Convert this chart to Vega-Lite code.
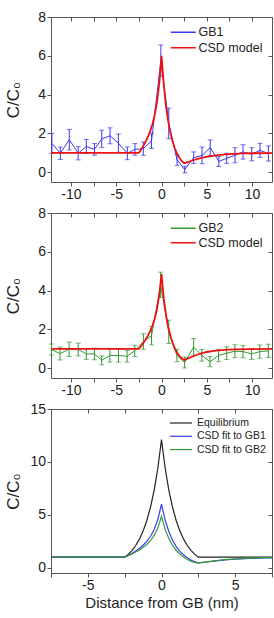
{
  "$schema": "https://vega.github.io/schema/vega-lite/v6.json",
  "padding": {"left": 3, "top": 9, "right": 2, "bottom": 2},
  "background": "white",
  "config": {
    "font": "Liberation Sans",
    "view": {"stroke": "#555", "strokeWidth": 1},
    "axis": {
      "domain": false, "grid": false,
      "labelFont": "Liberation Sans", "labelFontSize": 14, "labelColor": "#222",
      "titleFont": "Liberation Sans", "titleFontSize": 17, "titleFontWeight": "normal", "titleColor": "#222",
      "tickColor": "#555", "tickSize": 4, "labelPadding": 1
    },
    "legend": {
      "orient": "none", "padding": 0, "titlePadding": 0,
      "labelFont": "Liberation Sans", "labelColor": "#222",
      "symbolType": "M-2.5,0H2.5", "symbolSize": 100, "symbolStrokeWidth": 1.5
    }
  },
  "datasets": {
    "gb1": [
      {"x": -12.1, "c": 1.49, "err": 0.51}, {"x": -11.17, "c": 0.98, "err": 0.32},
      {"x": -10.18, "c": 1.68, "err": 0.53}, {"x": -9.2, "c": 0.98, "err": 0.34},
      {"x": -8.3, "c": 1.33, "err": 0.36}, {"x": -7.4, "c": 1.18, "err": 0.3},
      {"x": -6.6, "c": 1.72, "err": 0.45}, {"x": -5.68, "c": 1.88, "err": 0.41},
      {"x": -4.76, "c": 1.5, "err": 0.47}, {"x": -3.77, "c": 0.98, "err": 0.33},
      {"x": -2.93, "c": 1.18, "err": 0.3}, {"x": -2.01, "c": 1.22, "err": 0.34},
      {"x": -1.1, "c": 1.62, "err": 0.39}, {"x": -0.07, "c": 5.75, "err": 0.81},
      {"x": 0.8, "c": 2.52, "err": 0.79}, {"x": 1.72, "c": 0.64, "err": 0.28},
      {"x": 2.56, "c": 0.14, "err": 0.17}, {"x": 3.55, "c": 0.75, "err": 0.3},
      {"x": 4.47, "c": 0.87, "err": 0.43}, {"x": 5.38, "c": 1.27, "err": 0.4},
      {"x": 6.33, "c": 0.56, "err": 0.26}, {"x": 7.2, "c": 0.72, "err": 0.26},
      {"x": 8.11, "c": 0.88, "err": 0.39}, {"x": 9.0, "c": 1.05, "err": 0.37},
      {"x": 9.96, "c": 0.93, "err": 0.34}, {"x": 10.88, "c": 1.13, "err": 0.36},
      {"x": 11.8, "c": 0.97, "err": 0.39}
    ],
    "gb2": [
      {"x": -12.15, "c": 0.97, "err": 0.28}, {"x": -11.2, "c": 0.76, "err": 0.33},
      {"x": -10.2, "c": 0.98, "err": 0.37}, {"x": -9.2, "c": 0.97, "err": 0.33},
      {"x": -8.3, "c": 0.74, "err": 0.28}, {"x": -7.4, "c": 0.74, "err": 0.3},
      {"x": -6.6, "c": 0.41, "err": 0.23}, {"x": -5.7, "c": 0.66, "err": 0.34},
      {"x": -4.75, "c": 0.66, "err": 0.34}, {"x": -3.8, "c": 0.62, "err": 0.3},
      {"x": -2.95, "c": 0.9, "err": 0.29}, {"x": -2.0, "c": 1.38, "err": 0.4},
      {"x": -1.1, "c": 1.68, "err": 0.47}, {"x": -0.1, "c": 4.3, "err": 0.65},
      {"x": 0.8, "c": 1.88, "err": 0.6}, {"x": 1.7, "c": 0.66, "err": 0.32},
      {"x": 2.55, "c": 0.3, "err": 0.28}, {"x": 3.55, "c": 1.1, "err": 0.43},
      {"x": 4.45, "c": 0.67, "err": 0.3}, {"x": 5.35, "c": 0.34, "err": 0.26},
      {"x": 6.3, "c": 0.66, "err": 0.32}, {"x": 7.2, "c": 0.78, "err": 0.33},
      {"x": 8.1, "c": 0.88, "err": 0.33}, {"x": 9.0, "c": 0.86, "err": 0.32},
      {"x": 9.95, "c": 0.74, "err": 0.28}, {"x": 10.85, "c": 0.86, "err": 0.34},
      {"x": 11.8, "c": 0.9, "err": 0.34}
    ],
    "fit1": [
      {"x": -12.2, "c": 1}, {"x": -2.5, "c": 1}, {"x": -2.25, "c": 1.17}, {"x": -2, "c": 1.36},
      {"x": -1.75, "c": 1.58}, {"x": -1.5, "c": 1.82}, {"x": -1.25, "c": 2.12}, {"x": -1, "c": 2.48},
      {"x": -0.75, "c": 2.95}, {"x": -0.5, "c": 3.6}, {"x": -0.25, "c": 4.55}, {"x": 0, "c": 6.0},
      {"x": 0.25, "c": 4.5}, {"x": 0.5, "c": 3.4}, {"x": 0.75, "c": 2.6}, {"x": 1, "c": 2.0},
      {"x": 1.25, "c": 1.55}, {"x": 1.5, "c": 1.2}, {"x": 1.75, "c": 0.93}, {"x": 2, "c": 0.73},
      {"x": 2.25, "c": 0.57}, {"x": 2.5, "c": 0.47}, {"x": 3, "c": 0.54}, {"x": 3.5, "c": 0.62},
      {"x": 4, "c": 0.69}, {"x": 4.5, "c": 0.75}, {"x": 5, "c": 0.8}, {"x": 6, "c": 0.87},
      {"x": 7, "c": 0.92}, {"x": 8, "c": 0.95}, {"x": 9, "c": 0.97}, {"x": 10, "c": 0.98},
      {"x": 12.2, "c": 0.99}
    ],
    "fit2": [
      {"x": -12.2, "c": 1}, {"x": -2.5, "c": 1}, {"x": -2.25, "c": 1.14}, {"x": -2, "c": 1.3},
      {"x": -1.75, "c": 1.48}, {"x": -1.5, "c": 1.68}, {"x": -1.25, "c": 1.92}, {"x": -1, "c": 2.2},
      {"x": -0.75, "c": 2.55}, {"x": -0.5, "c": 3.05}, {"x": -0.25, "c": 3.75}, {"x": 0, "c": 4.85},
      {"x": 0.25, "c": 3.6}, {"x": 0.5, "c": 2.75}, {"x": 0.75, "c": 2.1}, {"x": 1, "c": 1.65},
      {"x": 1.25, "c": 1.28}, {"x": 1.5, "c": 1.0}, {"x": 1.75, "c": 0.78}, {"x": 2, "c": 0.62},
      {"x": 2.25, "c": 0.5}, {"x": 2.5, "c": 0.43}, {"x": 3, "c": 0.52}, {"x": 3.5, "c": 0.62},
      {"x": 4, "c": 0.71}, {"x": 4.5, "c": 0.78}, {"x": 5, "c": 0.84}, {"x": 6, "c": 0.91},
      {"x": 7, "c": 0.95}, {"x": 8, "c": 0.97}, {"x": 10, "c": 0.99}, {"x": 12.2, "c": 1.0}
    ],
    "equilibrium": [
      {"x": -7.5, "c": 1}, {"x": -2.5, "c": 1}, {"x": -2.25, "c": 1.28}, {"x": -2, "c": 1.64},
      {"x": -1.75, "c": 2.1}, {"x": -1.5, "c": 2.7}, {"x": -1.25, "c": 3.46}, {"x": -1, "c": 4.44},
      {"x": -0.75, "c": 5.7}, {"x": -0.5, "c": 7.3}, {"x": -0.25, "c": 9.4}, {"x": 0, "c": 12.1},
      {"x": 0.25, "c": 9.4}, {"x": 0.5, "c": 7.3}, {"x": 0.75, "c": 5.7}, {"x": 1, "c": 4.44},
      {"x": 1.25, "c": 3.46}, {"x": 1.5, "c": 2.7}, {"x": 1.75, "c": 2.1}, {"x": 2, "c": 1.64},
      {"x": 2.25, "c": 1.28}, {"x": 2.5, "c": 1}, {"x": 7.5, "c": 1}
    ]
  },
  "bounds": "flush",
  "spacing": 31,
  "resolve": {"scale": {"color": "independent"}, "legend": {"color": "independent"}},
  "vconcat": [
    {
      "width": 221, "height": 165,
      "resolve": {"axis": {"x": "independent", "y": "independent"}},
      "layer": [
        {
          "data": {"name": "gb1"},
          "mark": {"type": "line", "strokeWidth": 1},
          "encoding": {
            "x": {"field": "x", "type": "quantitative", "scale": {"domain": [-12.2, 12.2], "nice": false, "zero": false},
                  "axis": {"orient": "bottom", "title": null, "values": [-10, -7.5, -5, -2.5, 0, 2.5, 5, 7.5, 10], "labelExpr": "datum.value % 5 === 0 ? '' + datum.value : ''"}},
            "y": {"field": "c", "type": "quantitative", "scale": {"domain": [-0.5, 8], "nice": false, "zero": false},
                  "axis": {"orient": "left", "title": "C/C₀", "values": [0, 2, 4, 6, 8], "labelPadding": 1.5, "titleX": -33, "titleBaseline": "alphabetic", "titleAlign": "center"}},
            "color": {"datum": "GB1", "type": "nominal",
                      "scale": {"domain": ["GB1", "CSD model"], "range": ["#3a3af2", "#ee1111"]},
                      "legend": {"title": null, "legendX": 126, "legendY": 9, "labelFontSize": 12.5, "labelOffset": 9, "rowPadding": 2.5}}
          }
        },
        {
          "data": {"name": "gb1"},
          "mark": {"type": "errorbar", "ticks": true, "size": 5, "thickness": 1, "color": "#3a3af2"},
          "encoding": {
            "x": {"field": "x", "type": "quantitative", "axis": null},
            "y": {"field": "c", "type": "quantitative", "axis": null},
            "yError": {"field": "err"}
          }
        },
        {
          "data": {"name": "fit1"},
          "mark": {"type": "line", "strokeWidth": 1.8},
          "encoding": {
            "x": {"field": "x", "type": "quantitative", "axis": {"orient": "top", "title": null, "labels": false, "tickSize": -4, "values": [-10, -7.5, -5, -2.5, 0, 2.5, 5, 7.5, 10]}},
            "y": {"field": "c", "type": "quantitative", "axis": {"orient": "right", "title": null, "labels": false, "tickSize": -4, "values": [0, 2, 4, 6, 8]}},
            "color": {"datum": "CSD model", "type": "nominal"}
          }
        },
        {
          "mark": {"type": "text", "fontSize": 26, "align": "left", "baseline": "middle", "color": "#111"},
          "encoding": {
            "x": {"datum": -11.6, "type": "quantitative", "axis": null},
            "y": {"datum": 6.7, "type": "quantitative", "axis": null},
            "text": {"value": "(a)"}
          }
        }
      ]
    },
    {
      "width": 221, "height": 165,
      "resolve": {"axis": {"x": "independent", "y": "independent"}},
      "layer": [
        {
          "data": {"name": "gb2"},
          "mark": {"type": "line", "strokeWidth": 1},
          "encoding": {
            "x": {"field": "x", "type": "quantitative", "scale": {"domain": [-12.2, 12.2], "nice": false, "zero": false},
                  "axis": {"orient": "bottom", "title": null, "values": [-10, -7.5, -5, -2.5, 0, 2.5, 5, 7.5, 10], "labelExpr": "datum.value % 5 === 0 ? '' + datum.value : ''"}},
            "y": {"field": "c", "type": "quantitative", "scale": {"domain": [-0.5, 8], "nice": false, "zero": false},
                  "axis": {"orient": "left", "title": "C/C₀", "values": [0, 2, 4, 6, 8], "labelPadding": 1.5, "titleX": -33, "titleBaseline": "alphabetic", "titleAlign": "center"}},
            "color": {"datum": "GB2", "type": "nominal",
                      "scale": {"domain": ["GB2", "CSD model"], "range": ["#349a34", "#ee1111"]},
                      "legend": {"title": null, "legendX": 126, "legendY": 9, "labelFontSize": 12.5, "labelOffset": 9, "rowPadding": 1.5}}
          }
        },
        {
          "data": {"name": "gb2"},
          "mark": {"type": "errorbar", "ticks": true, "size": 5, "thickness": 1, "color": "#349a34"},
          "encoding": {
            "x": {"field": "x", "type": "quantitative", "axis": null},
            "y": {"field": "c", "type": "quantitative", "axis": null},
            "yError": {"field": "err"}
          }
        },
        {
          "data": {"name": "fit2"},
          "mark": {"type": "line", "strokeWidth": 1.8},
          "encoding": {
            "x": {"field": "x", "type": "quantitative", "axis": {"orient": "top", "title": null, "labels": false, "tickSize": -4, "values": [-10, -7.5, -5, -2.5, 0, 2.5, 5, 7.5, 10]}},
            "y": {"field": "c", "type": "quantitative", "axis": {"orient": "right", "title": null, "labels": false, "tickSize": -4, "values": [0, 2, 4, 6, 8]}},
            "color": {"datum": "CSD model", "type": "nominal"}
          }
        },
        {
          "mark": {"type": "text", "fontSize": 26, "align": "left", "baseline": "middle", "color": "#111"},
          "encoding": {
            "x": {"datum": -11.6, "type": "quantitative", "axis": null},
            "y": {"datum": 6.55, "type": "quantitative", "axis": null},
            "text": {"value": "(b)"}
          }
        }
      ]
    },
    {
      "width": 221, "height": 164,
      "resolve": {"axis": {"x": "independent", "y": "independent"}},
      "layer": [
        {
          "data": {"name": "equilibrium"},
          "mark": {"type": "line", "strokeWidth": 1.2, "clip": true},
          "encoding": {
            "x": {"field": "x", "type": "quantitative", "scale": {"domain": [-7.5, 7.5], "nice": false, "zero": false},
                  "axis": {"orient": "bottom", "title": "Distance from GB (nm)", "titleFontSize": 15, "titlePadding": 3, "values": [-7.5, -5, -2.5, 0, 2.5, 5, 7.5], "labelExpr": "datum.value % 5 === 0 ? '' + datum.value : ''"}},
            "y": {"field": "c", "type": "quantitative", "scale": {"domain": [-0.5, 15], "nice": false, "zero": false},
                  "axis": {"orient": "left", "title": "C/C₀", "values": [0, 5, 10, 15], "labelPadding": 1.5, "titleX": -33, "titleBaseline": "alphabetic", "titleAlign": "center"}},
            "color": {"datum": "Equilibrium", "type": "nominal",
                      "scale": {"domain": ["Equilibrium", "CSD fit to GB1", "CSD fit to GB2"], "range": ["#222222", "#3a3af2", "#349a34"]},
                      "legend": {"title": null, "legendX": 124, "legendY": 8, "labelFontSize": 10.5, "labelOffset": 10, "rowPadding": 1.3, "symbolType": "M-2.2,0H2.2", "symbolStrokeWidth": 1.2}}
          }
        },
        {
          "data": {"name": "fit1"},
          "mark": {"type": "line", "strokeWidth": 1.2, "clip": true},
          "encoding": {
            "x": {"field": "x", "type": "quantitative", "axis": {"orient": "top", "title": null, "labels": false, "tickSize": -4, "values": [-7.5, -5, -2.5, 0, 2.5, 5, 7.5]}},
            "y": {"field": "c", "type": "quantitative", "axis": {"orient": "right", "title": null, "labels": false, "tickSize": -4, "values": [0, 5, 10, 15]}},
            "color": {"datum": "CSD fit to GB1", "type": "nominal"}
          }
        },
        {
          "data": {"name": "fit2"},
          "mark": {"type": "line", "strokeWidth": 1.2, "clip": true},
          "encoding": {
            "x": {"field": "x", "type": "quantitative", "axis": null},
            "y": {"field": "c", "type": "quantitative", "axis": null},
            "color": {"datum": "CSD fit to GB2", "type": "nominal"}
          }
        },
        {
          "mark": {"type": "text", "fontSize": 26, "align": "left", "baseline": "middle", "color": "#111"},
          "encoding": {
            "x": {"datum": -6.95, "type": "quantitative", "axis": null},
            "y": {"datum": 12.6, "type": "quantitative", "axis": null},
            "text": {"value": "(c)"}
          }
        }
      ]
    }
  ]
}
